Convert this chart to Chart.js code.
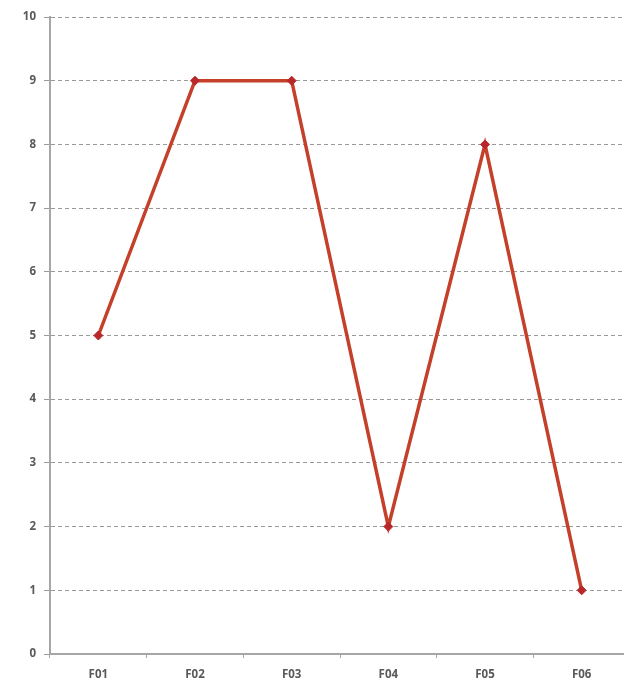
<!DOCTYPE html>
<html>
<head>
<meta charset="utf-8">
<script src="https://cdn.jsdelivr.net/npm/chart.js@4/dist/chart.umd.min.js"></script>
<style>
  html, body { margin: 0; padding: 0; background: #fff; overflow: hidden; }
  #wrap { width: 640px; height: 682px; }
</style>
</head>
<body>
<div id="wrap"><canvas id="c" width="640" height="682"></canvas></div>
<script>
const categories = ["F01", "F02", "F03", "F04", "F05", "F06"];
const values = [5, 9, 9, 2, 8, 1];
const yTicks = [0, 1, 2, 3, 4, 5, 6, 7, 8, 9, 10];

const tickFont = { family: "'Open Sans', 'Liberation Sans', sans-serif", size: 11.5, weight: "bold" };

new Chart(document.getElementById("c"), {
  type: "line",
  data: {
    labels: categories,
    datasets: [{
      data: values,
      borderColor: "#c4402a",
      borderWidth: 3.5,
      pointStyle: "rectRot",
      pointRadius: 4.5,
      pointBackgroundColor: "#b8282a",
      pointBorderColor: "#b8282a",
      pointBorderWidth: 1,
      tension: 0
    }]
  },
  options: {
    responsive: false,
    animation: false,
    plugins: { legend: { display: false }, tooltip: { enabled: false } },
    layout: { padding: { top: 17, right: 10, left: 0, bottom: 0 } },
    scales: {
      x: {
        offset: true,
        grid: { display: true, offset: true, drawOnChartArea: false, color: "#a6a6a6", tickLength: 4, lineWidth: 1 },
        border: { color: "#a6a6a6", width: 2 },
        ticks: { color: "#595959", font: tickFont, padding: 10, maxRotation: 0 },
        afterFit: s => { s.height = 28; }
      },
      y: {
        min: 0,
        max: 10,
        afterBuildTicks: s => { s.ticks = yTicks.map(v => ({ value: v })); },
        grid: { color: "#9a9a9a", lineWidth: 1, tickLength: 6, drawTicks: true },
        border: { color: "#a6a6a6", width: 2, dash: [4, 3] },
        ticks: { color: "#595959", font: tickFont, padding: 8 },
        afterFit: s => { s.width = 50; }
      }
    }
  }
});
</script>
</body>
</html>
